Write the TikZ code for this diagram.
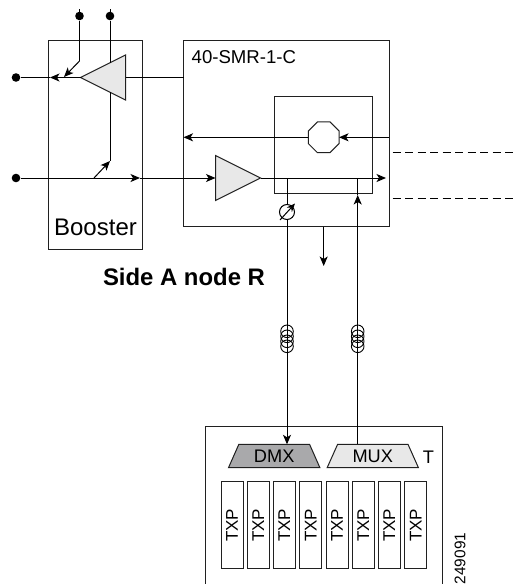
\documentclass[tikz,border=0pt]{standalone}
\usepackage{fontspec}
\setmainfont{Liberation Sans}
\usetikzlibrary{arrows.meta, shapes.geometric}
\definecolor{ampgray}{HTML}{E8E8E8}
\definecolor{dmxgray}{HTML}{A9A9AB}
\definecolor{boxline}{HTML}{202020}
\tikzset{
	wire/.style={line width=1pt},
	arr/.style={wire, -{Stealth[length=9.5pt,width=8pt,inset=2.5pt]}},
	box/.style={draw=boxline, line width=1pt, inner sep=0pt, outer sep=0pt},
	dot/.style={circle, fill, inner sep=0pt, minimum size=8.6pt},
	amp/.style={isosceles triangle, isosceles triangle apex angle=52, isosceles triangle stretches, draw=boxline, line width=1pt, fill=ampgray, inner sep=0pt, outer sep=0pt, minimum width=45pt, minimum height=45pt},
	wdm/.style={trapezium, trapezium stretches, trapezium left angle=64.7, trapezium right angle=64.7, draw=boxline, line width=1pt, inner sep=0pt, outer sep=0pt, minimum width=91.6pt, minimum height=23.4pt, font=\fontsize{18.2}{18}\selectfont},
	txp/.style={box, minimum width=22pt, minimum height=87pt, anchor=north west},
	coil/.style={circle, draw, line width=0.9pt, inner sep=0pt, minimum size=12.6pt}
}
\begin{document}
\begin{tikzpicture}[x=1pt, y=-1pt]
	\useasboundingbox (0,0) rectangle (513,584);
	\node[box, minimum width=93.5pt, minimum height=208.5pt, anchor=north west] (booster) at (48.5,40.5) {};
	\node[box, minimum width=205.5pt, minimum height=186.2pt, anchor=north west] (smr) at (183.5,40.5) {};
	\node[box, minimum width=97.6pt, minimum height=96.6pt, anchor=north west] (wss) at (274.7,96.7) {};
	\node[font=\fontsize{24}{24}\selectfont] (boosterlabel) at (95.5,227) {Booster};
	\node[font=\fontsize{18.6}{19}\selectfont, anchor=west, inner sep=0pt] (smrlabel) at (191.5,57) {40-SMR-1-C};
	\node[font=\bfseries\fontsize{23.9}{24}\selectfont] (sidelabel) at (184,277) {Side A node R};

	% amplifiers and the octagon
	\node[amp, shape border rotate=180, anchor=apex] (amptop) at (80.5,77.5) {};
	\node[amp, anchor=apex] (ampbot) at (260.5,178) {};
	\node[regular polygon, regular polygon sides=8, draw=boxline, line width=1pt, inner sep=0pt, outer sep=0pt, minimum size=33.2pt] (octa) at (323.7,137.3) {};

	% dots and wires on the left
	\node[dot] (dottop) at (16,77.5) {};
	\node[dot] (dotbot) at (16,178) {};
	\node[dot] (dotna) at (79.5,16) {};
	\node[dot] (dotnb) at (110,16) {};
	\coordinate (stuba) at (79.5,9);
	\coordinate (stubb) at (110,9);
	\coordinate (kinka) at (79.5,61);
	\coordinate (tapa) at (64,77);
	\coordinate (ampin) at (110,63);
	\coordinate (ampout) at (110,92);
	\coordinate (kinkb) at (110,161);
	\coordinate (tapb) at (94,178);
	\coordinate (midtop) at (50,77.5);
	\coordinate (midbot) at (140,178);
	\draw[wire] (stuba) to (dotna);
	\draw[wire] (stubb) to (dotnb);
	\draw[wire] (dotna) to (kinka);
	\draw[arr] (kinka) to (tapa);
	\draw[wire] (dotnb) to (ampin);
	\draw[wire] (ampout) to (kinkb);
	\draw[arr] (tapb) to (kinkb);
	\draw[arr] (amptop.apex) to (midtop);
	\draw[wire] (midtop) to (dottop);
	\draw[wire] (amptop.lower side) to (amptop.lower side -| smr.west);
	\draw[arr] (dotbot) to (midbot);
	\draw[arr] (midbot) to (ampbot.lower side);

	% wires inside the 40-SMR
	\coordinate (octin) at (smr.east |- octa);
	\coordinate (octout) at (smr.west |- octa);
	\coordinate (lineend) at (386,178);
	\draw[arr] (octin) to (octa.east);
	\draw[arr] (octa.west) to (octout);
	\draw[arr] (ampbot.apex) to (lineend);

	% dashed lines
	\coordinate (dasha) at (392.7,152.3);
	\coordinate (dashb) at (513,152.3);
	\coordinate (dashc) at (392.7,198.3);
	\coordinate (dashd) at (513,198.3);
	\draw[wire, dash pattern=on 8pt off 4.5pt] (dasha) to (dashb);
	\draw[wire, dash pattern=on 8pt off 4.5pt] (dashc) to (dashd);

	% terminal
	\coordinate (tl) at (205.3,590);
	\coordinate (tr) at (442,590);
	\coordinate (tlt) at (205.3,426);
	\coordinate (trt) at (442,426);
	\draw[draw=boxline, line width=1pt] (tl) to (tlt) to (trt) to (tr);
	\node[wdm, fill=dmxgray] (dmx) at (274.2,456) {DMX};
	\node[wdm, fill=ampgray] (mux) at (372.8,456) {MUX};
	\node[font=\fontsize{18.2}{18}\selectfont] (tlabel) at (428.5,457) {T};
	\foreach \i/\x in {1/221,2/247.3,3/273.3,4/299.7,5/326,6/352.3,7/378.3,8/404.7}
		\node[txp] (txp\i) at (\x,481.7) {\rotatebox{90}{\fontsize{17}{17}\selectfont TXP}};
	\node[font=\fontsize{15.4}{16}\selectfont, rotate=90, inner sep=0pt] (fignum) at (460,558.5) {249091};

	% drop and add fibres
	\coordinate (dropstart) at (287,178);
	\coordinate (dropend) at (287,444.3);
	\coordinate (addstart) at (357.7,444.3);
	\coordinate (addmid) at (357.7,195);
	\coordinate (addend) at (357.7,178);
	\coordinate (voastart) at (280,220);
	\coordinate (voaend) at (295,203.5);
	\coordinate (outstart) at (323.7,226.7);
	\coordinate (outend) at (323.7,266);
	\draw[arr] (dropstart) to (dropend);
	\draw[arr] (addstart) to (addmid);
	\draw[wire] (addmid) to (addend);
	\draw[arr] (outstart) to (outend);
	\node[circle, draw, fill=white, line width=1pt, inner sep=0pt, minimum size=15pt] (voa) at (287,212) {};
	\draw[line width=1pt, -{Stealth[length=8.5pt,width=7pt]}] (voastart) to (voaend);
	\foreach \y in {331.3,336.3,341.3,346.3} {
		\node[coil] (coila\y) at (287,\y) {};
		\node[coil] (coilb\y) at (357.7,\y) {};
	}
\end{tikzpicture}
\end{document}
